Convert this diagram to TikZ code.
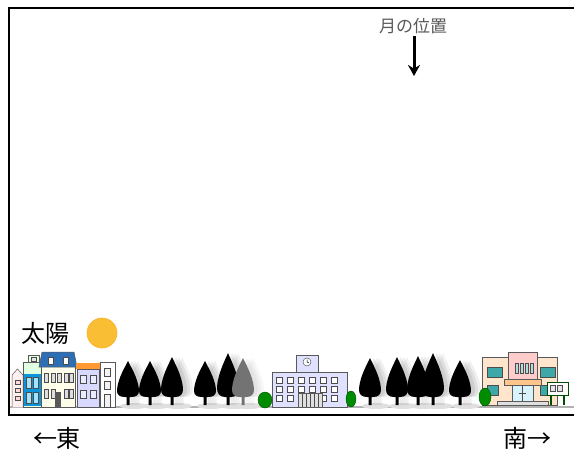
\documentclass[tikz,border=0pt]{standalone}
\usepackage{fontspec}
\newfontfamily\jp{Noto Sans CJK JP}
\usetikzlibrary{arrows.meta}
\definecolor{sunfill}{HTML}{F9BE33}
\definecolor{roofblue}{HTML}{2E6EB5}
\definecolor{teal}{HTML}{3FA7A8}

\begin{document}
\begin{tikzpicture}[x=1pt,y=-1pt,
    big/.style={font={\jp\fontsize{24}{28}\selectfont},inner sep=0pt},
    wall/.style={draw=gray!70!black,line width=0.5pt},
    win/.style={fill=#1,draw=gray!60!black,line width=0.4pt},
    bush/.style={fill=green!55!black,draw=green!30!black,line width=0.4pt},
    pics/tree/.style={code={
        \fill[black!12] (6,1) ellipse (14 and 3);
        \foreach \dx/\op in {10/0.06,7/0.07,4/0.08,0/1}
          \fill[opacity=\op,xshift=\dx] (-1.5,0) rectangle (1.5,-12)
            (0,-#1) .. controls (2,-0.9*#1) and (10,-0.62*#1) .. (11,-0.35*#1)
            .. controls (11.5,-0.22*#1) and (8,-8) .. (3,-8) -- (-3,-8)
            .. controls (-8,-8) and (-11.5,-0.22*#1) .. (-11,-0.35*#1)
            .. controls (-10,-0.62*#1) and (-2,-0.9*#1) .. cycle;}}]
\useasboundingbox (0,0) rectangle (574,452);

% frame and ground
\draw[line width=2pt] (574,8) -- (9,8) -- (9,415) -- (574,415);
\draw[gray!60,line width=1.2pt] (10,407) -- (574,407);

% sun
\node[big,anchor=west] (sunlabel) at (21,333) {太陽};
\draw[sunfill!80!orange,fill=sunfill,line width=0.6pt] (102,333) circle (15);

% moon
\node[font={\jp\fontsize{17}{19}\selectfont},text=gray!70!black,inner sep=1pt] (moon) at (413,26) {月の位置};
\coordinate (moonpos) at (414,76);
\draw[line width=3pt,-{Stealth[length=11pt,width=12pt]}] (moonpos |- moon.south) ++(0,1) -- (moonpos);

% houses on the east side
\draw[wall,fill=pink!25] (12,407) -- (12,375) -- (17.5,369) -- (23,375) -- (23,407);
\foreach \y in {380,388,396} \draw[win=pink!60] (15,\y) rectangle +(5,4);
\draw[wall,fill=green!12] (23,407) rectangle (42,362);
\draw[wall,fill=green!12] (28,362) rectangle (39,355);
\draw[win=gray!20] (31,357) rectangle +(5,4);
\fill[cyan!80!blue] (24,374) rectangle (41,406);
\foreach \x in {26,33} \foreach \y in {377,392} \draw[win=cyan!35] (\x,\y) rectangle +(5.5,11);
\draw[wall,fill=yellow!8] (41,366) rectangle (75,407);
\draw[wall,fill=roofblue] (39,367) -- (42,352) -- (74,352) -- (77,367) -- cycle;
\foreach \x in {48,63} \draw[win=white] (\x,357) rectangle +(5,7);
\foreach \x in {44,51,64,69} \foreach \y in {373,389} \draw[win=gray!25] (\x,\y) rectangle +(4.5,9);
\draw[win=gray!25] (57,373) rectangle +(4.5,9);
\fill[gray!70!black] (55,392) rectangle (61,407);
\draw[wall,fill=blue!15] (77,369) rectangle (99,407);
\fill[orange!80] (76,363) rectangle (100,369);
\foreach \x in {80,90} \foreach \y in {375,390} \draw[win=blue!8] (\x,\y) rectangle +(6,8);
\draw[wall,fill=white] (100,362) rectangle (115,407);
\foreach \y in {368,381} \draw[win=gray!10] (104,\y) rectangle +(6,8);
\draw[win=gray!10] (104,394) rectangle (110,407);

% trees east
\foreach \x/\h in {128/44,150/44,172/48,205/44,228/52} \pic at (\x,405) {tree=\h};
\pic[color=black!55] at (243,405) {tree=47};

% school
\draw[wall,fill=blue!12] (272,372) rectangle (347,407);
\draw[wall,fill=blue!12] (296,355) rectangle (318,372);
\draw[wall,fill=white] (307,362) circle (4);
\draw[line width=0.5pt] (307,362) -- (307,359.5) (307,362) -- (309,363);
\foreach \x in {0,...,5} \foreach \y in {377,386} \draw[win=white] (276+11*\x,\y) rectangle +(6,6);
\foreach \x in {0,1,4,5} \draw[win=white] (276+11*\x,395) rectangle +(6,6);
\draw[wall,fill=gray!25] (298,393) rectangle (322,407);
\foreach \x in {302,306,...,318} \draw[gray!60!black,line width=0.4pt] (\x,394) -- (\x,407);
\draw[bush] (265,400) ellipse (7 and 8);
\draw[bush] (351,399) ellipse (5 and 8);

% trees south
\foreach \x/\h in {370/47,397/48,418/49,433/52,460/45} \pic at (\x,405) {tree=\h};

% building on the south side
\draw[wall,fill=orange!20] (482,357) rectangle (557,405);
\draw[wall,fill=red!20] (508,352) rectangle (537,380);
\foreach \x in {487,540} \draw[win=teal] (\x,367) rectangle +(15,10);
\foreach \x in {487,540} \draw[win=teal] (\x,385) rectangle +(11,10);
\foreach \x in {515,520,525,530} \draw[win=teal!40] (\x,363) rectangle +(3,10);
\draw[wall,fill=orange!45] (504,379) rectangle (541,385);
\draw[wall,fill=cyan!15] (512,385) rectangle (533,401);
\draw[gray!60!black,line width=0.4pt] (522.5,385) -- (522.5,401) (519,393) -- (526,393);
\draw[wall,fill=gray!25] (497,401) rectangle (548,405);
\draw[bush] (485,397) ellipse (6 and 9);
\draw[green!30!black,line width=1.2pt] (551,395) -- (551,405) (564,395) -- (564,405);
\draw[green!30!black,line width=1pt,fill=white] (547,382) rectangle (568,395);
\foreach \x in {550,557} \draw[win=gray!20] (\x,385) rectangle +(5,6);

% directions
\node[big] (east) at (57,438) {←東};
\node[big] (south) at (527,438) {南→};
\end{tikzpicture}
\end{document}
